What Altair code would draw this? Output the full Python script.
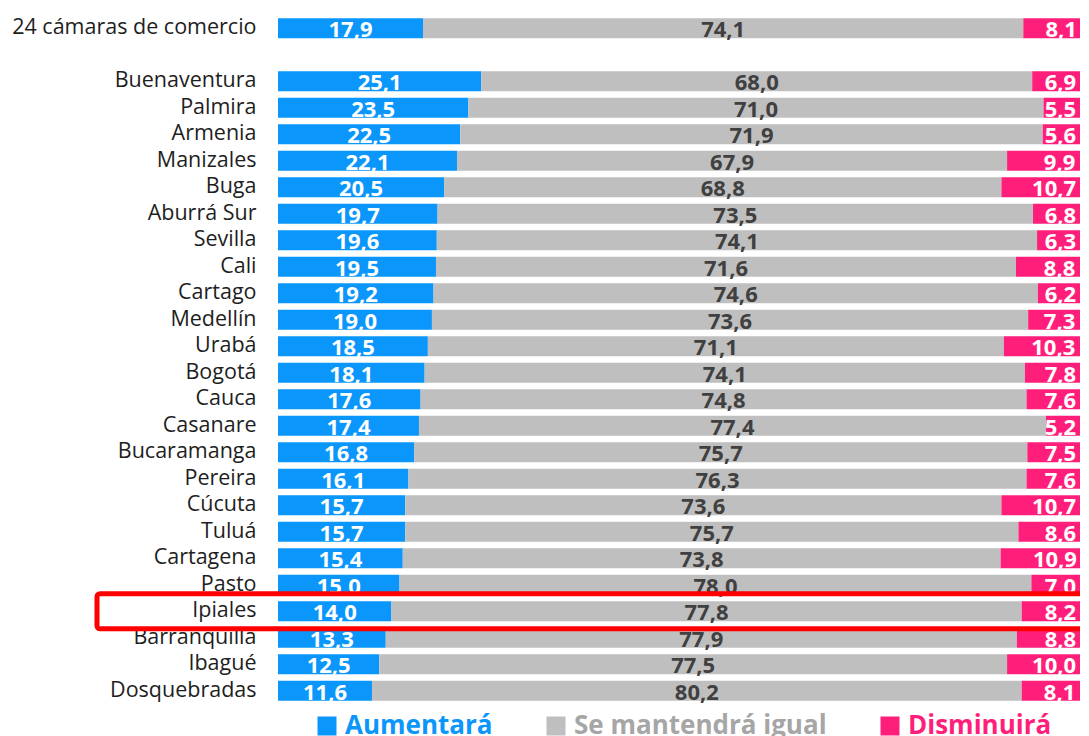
import altair as alt
import pandas as pd

categories = ["24 cámaras de comercio", "Buenaventura", "Palmira", "Armenia", "Manizales", "Buga",
              "Aburrá Sur", "Sevilla", "Cali", "Cartago", "Medellín", "Urabá", "Bogotá", "Cauca",
              "Casanare", "Bucaramanga", "Pereira", "Cúcuta", "Tuluá", "Cartagena", "Pasto",
              "Ipiales", "Barranquilla", "Ibagué", "Dosquebradas"]
aumentara = [17.9, 25.1, 23.5, 22.5, 22.1, 20.5, 19.7, 19.6, 19.5, 19.2, 19.0, 18.5, 18.1,
             17.6, 17.4, 16.8, 16.1, 15.7, 15.7, 15.4, 15.0, 14.0, 13.3, 12.5, 11.6]
igual = [74.1, 68.0, 71.0, 71.9, 67.9, 68.8, 73.5, 74.1, 71.6, 74.6, 73.6, 71.1, 74.1,
         74.8, 77.4, 75.7, 76.3, 73.6, 75.7, 73.8, 78.0, 77.8, 77.9, 77.5, 80.2]
disminuira = [8.1, 6.9, 5.5, 5.6, 9.9, 10.7, 6.8, 6.3, 8.8, 6.2, 7.3, 10.3, 7.8,
              7.6, 5.2, 7.5, 7.6, 10.7, 8.6, 10.9, 7.0, 8.2, 8.8, 10.0, 8.1]
series = ["Aumentará", "Se mantendrá igual", "Disminuirá"]
colors = ["#0A96FA", "#BFBFBF", "#FF1F7A"]
legend_text_colors = ["#0A96FA", "#A6A6A6", "#FF1F7A"]
highlight = "Ipiales"

rows = []
for i, c in enumerate(categories):
    for k, (s, vals) in enumerate(zip(series, [aumentara, igual, disminuira])):
        rows.append({"cat": c, "serie": s, "order": k, "value": vals[i]})
df = pd.DataFrame(rows)

y_domain = [categories[0], " "] + categories[1:]

FONT = "Open Sans"

label_color_expr = (
    f"datum.label == '{series[0]}' ? '{legend_text_colors[0]}' : "
    f"(datum.label == '{series[2]}' ? '{legend_text_colors[2]}' : '{legend_text_colors[1]}')"
)

y_enc = alt.Y("cat:N", sort=y_domain,
              scale=alt.Scale(domain=y_domain, paddingInner=0.25, paddingOuter=0.125),
              axis=alt.Axis(title=None, ticks=False, domain=False, labelFont=FONT,
                            labelFontSize=21.5, labelColor="#1E1E1E", labelPadding=22,
                            labelLimit=400))
# the visible plot is cut just before 100 %, as in the reference
x_scale = alt.Scale(domain=[0, 99.0], nice=False, zero=True)

base = alt.Chart(df).transform_stack(
    stack="value", as_=["x0", "x1"], groupby=["cat"], sort=[alt.SortField("order")]
).transform_calculate(
    mid="(datum.x0 + datum.x1) / 2",
    label="replace(format(datum.value, '.1f'), '.', ',')"
)

bars = base.mark_bar(clip=True).encode(
    y=y_enc,
    x=alt.X("x0:Q", scale=x_scale, axis=None),
    x2="x1:Q",
    color=alt.Color("serie:N", sort=series, scale=alt.Scale(domain=series, range=colors),
                    legend=alt.Legend(title=None, orient="none", direction="horizontal",
                                      legendX=36, legendY=698,
                                      symbolType="square", symbolSize=361,
                                      symbolStrokeWidth=0, labelFont=FONT,
                                      labelFontSize=26, labelFontWeight="bold",
                                      columnPadding=50, labelOffset=5,
                                      labelLimit=400,
                                      labelColor={"expr": label_color_expr})),
)

mid_text = base.transform_filter("datum.order < 2").mark_text(
    font=FONT, fontSize=22, fontWeight="bold", baseline="middle", dy=2
).encode(
    y=alt.Y("cat:N", sort=y_domain),
    x=alt.X("mid:Q", scale=x_scale),
    text="label:N",
    color=alt.condition("datum.order == 0", alt.value("white"), alt.value("#404040")),
)

end_text = base.transform_filter("datum.order == 2").mark_text(
    font=FONT, fontSize=22, fontWeight="bold", baseline="middle", align="right", dx=-12, dy=2,
    color="white"
).encode(
    y=alt.Y("cat:N", sort=y_domain),
    x=alt.X("x1:Q", scale=x_scale),
    text="label:N",
)

box = alt.Chart(pd.DataFrame({"cat": [highlight]})).mark_bar(
    filled=False, stroke="#FF0000", strokeWidth=5, height=35, cornerRadius=3, clip=False
).encode(
    y=alt.Y("cat:N", sort=y_domain),
    x=alt.value(-181),
    x2=alt.value(840),
)

chart = alt.layer(bars, mid_text, end_text, box).properties(
    width=802, height=689,
    autosize=alt.AutoSizeParams(type="none"),
    padding={"left": 270, "top": 7, "right": 0, "bottom": 40},
).configure_view(stroke=None)

chart.save("out.html", embed_options={"renderer": "svg", "actions": False})
